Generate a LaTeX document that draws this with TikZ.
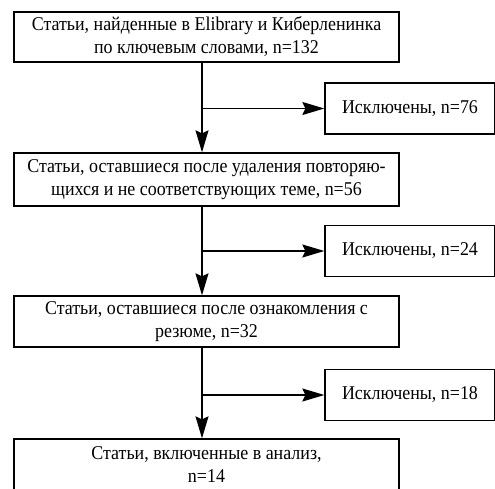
\documentclass[tikz,border=0pt]{standalone}
\usepackage{fontspec}
\setmainfont[FakeStretch=0.92]{Liberation Serif}
\usetikzlibrary{arrows.meta}

\begin{document}
\begin{tikzpicture}[x=1pt,y=-1pt,
  box/.style={draw,line width=1.3pt,align=center,inner sep=0pt,font=\fontsize{19.5}{23}\selectfont},
  stagebox/.style={box,minimum width=385pt},
  exbox/.style={box,minimum width=170pt,minimum height=51pt},
  flow/.style={line width=1.4pt,-{Stealth[length=22pt,width=13pt,inset=3pt]}}]
\useasboundingbox (0,0) rectangle (495,488);
% stages
\node[stagebox,minimum height=50pt] (found) at (206.5,37) {Статьи, найденные в Elibrary и Киберленинка\\по ключевым словами, n=132};
\node[stagebox,minimum height=53pt] (dedup) at (206.5,179.5) {Статьи, оставшиеся после удаления повторяю-\\щихся и не соответствующих теме, n=56};
\node[stagebox,minimum height=51pt] (abstr) at (206.5,321.5) {Статьи, оставшиеся после ознакомления с\\резюме, n=32};
\node[stagebox,minimum height=51pt] (incl) at (206.5,464.5) {Статьи, включенные в анализ,\\n=14};
% excluded
\node[exbox] (exA) at (410,108.5) {Исключены, n=76};
\node[exbox] (exB) at (410,251) {Исключены, n=24};
\node[exbox] (exC) at (410,395) {Исключены, n=18};
\coordinate (jA) at (202,108.5);
\coordinate (jB) at (202,251);
\coordinate (jC) at (202,395);
% arrows
\draw[flow] (found.south -| jA) -- (dedup.north -| jA);
\draw[flow] (dedup.south -| jB) -- (abstr.north -| jB);
\draw[flow] (abstr.south -| jC) -- (incl.north -| jC);
\draw[flow] (jA) -- (exA.west);
\draw[flow] (jB) -- (exB.west);
\draw[flow] (jC) -- (exC.west);
\end{tikzpicture}
\end{document}
